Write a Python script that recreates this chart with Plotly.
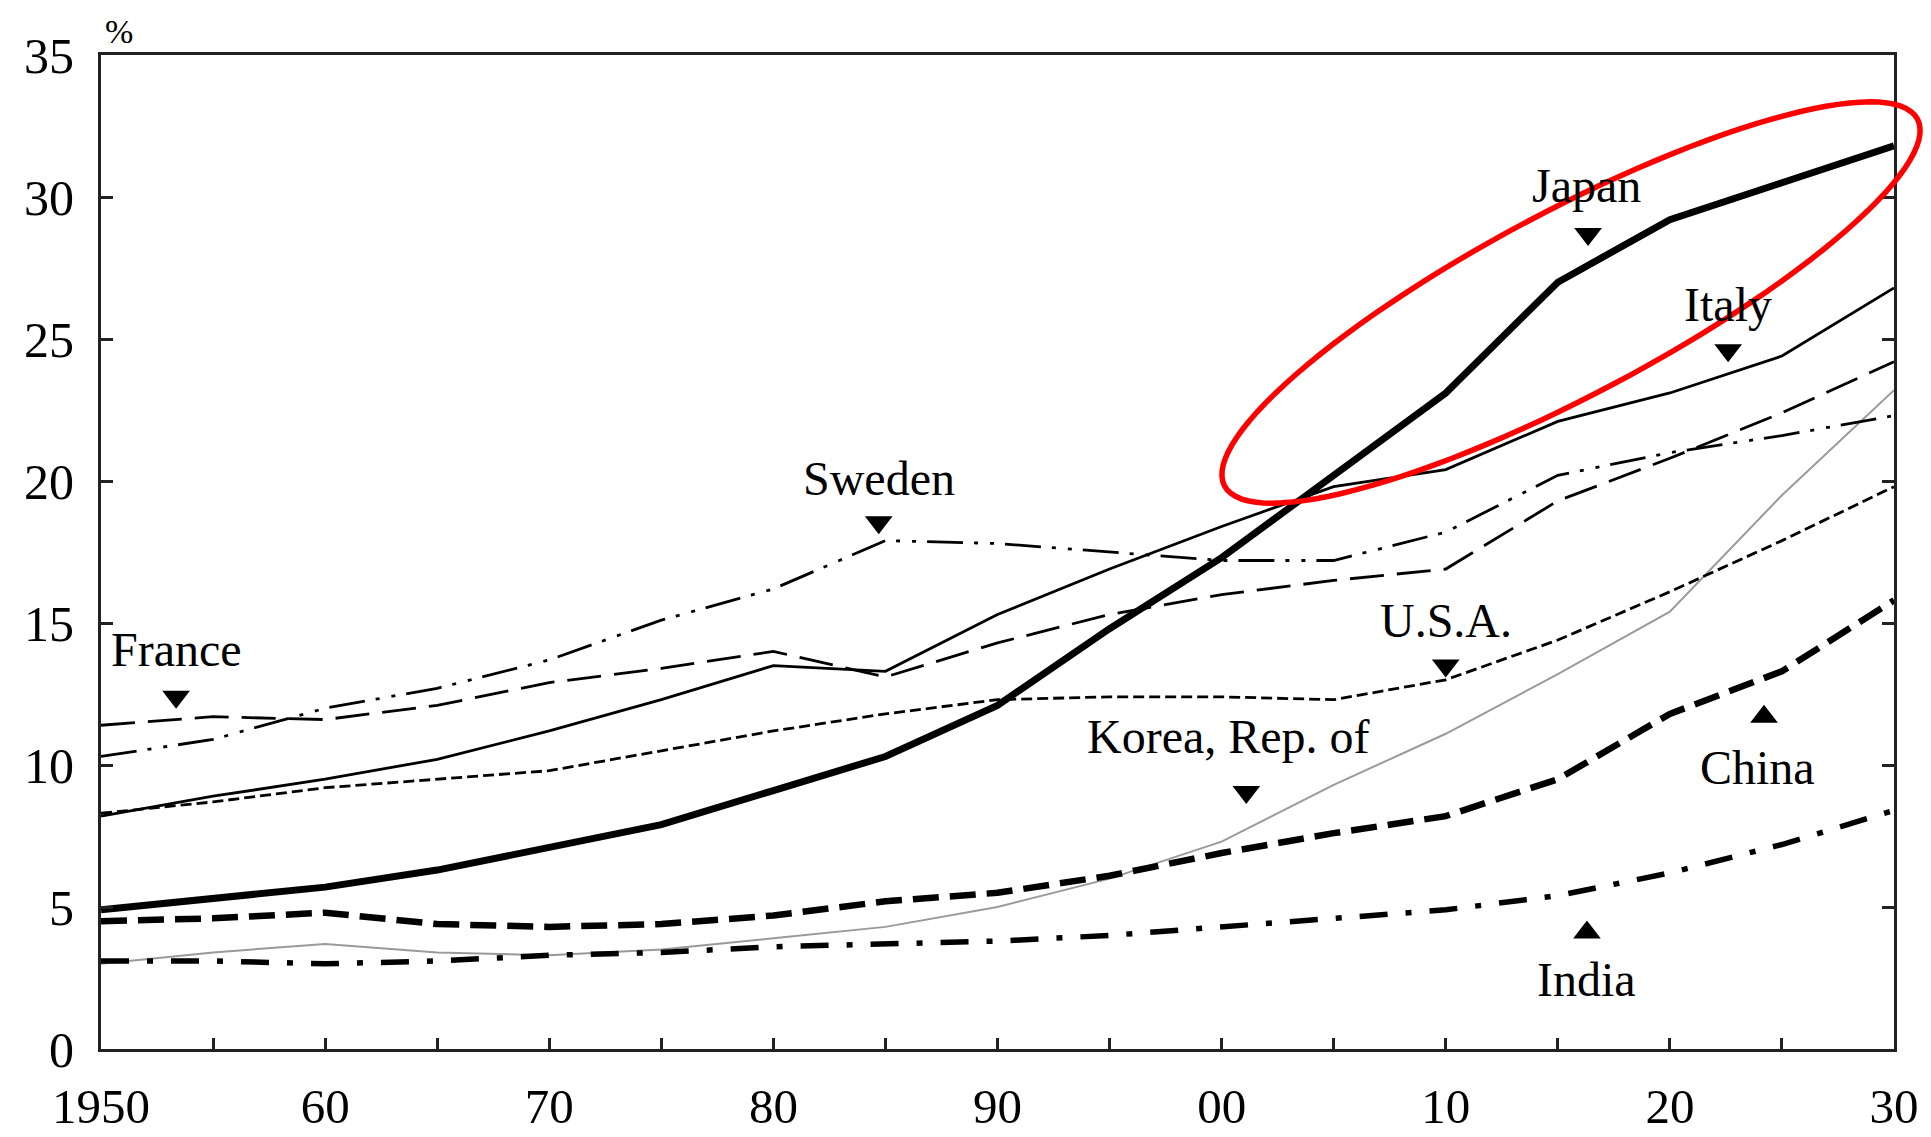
import numpy as np
import plotly.graph_objects as go

years = [1950, 1955, 1960, 1965, 1970, 1975, 1980, 1985, 1990, 1995, 2000, 2005, 2010, 2015, 2020, 2025, 2030]

japan  = [4.9, 5.3, 5.7, 6.3, 7.1, 7.9, 9.1, 10.3, 12.1, 14.8, 17.3, 20.2, 23.1, 27.0, 29.2, 30.5, 31.8]
italy  = [8.2, 8.9, 9.5, 10.2, 11.2, 12.3, 13.5, 13.3, 15.3, 16.9, 18.4, 19.8, 20.4, 22.1, 23.1, 24.4, 26.8]
sweden = [10.3, 10.9, 12.0, 12.7, 13.7, 15.1, 16.2, 17.9, 17.8, 17.5, 17.2, 17.2, 18.2, 20.2, 21.0, 21.6, 22.3]
france = [11.4, 11.7, 11.6, 12.1, 12.9, 13.4, 14.0, 13.1, 14.3, 15.3, 16.0, 16.5, 16.9, 19.3, 20.8, 22.4, 24.2]
usa    = [8.3, 8.7, 9.2, 9.5, 9.8, 10.5, 11.2, 11.8, 12.3, 12.4, 12.4, 12.3, 13.0, 14.4, 16.1, 17.9, 19.8]
korea  = [3.0, 3.4, 3.7, 3.4, 3.3, 3.5, 3.9, 4.3, 5.0, 6.0, 7.3, 9.3, 11.1, 13.2, 15.4, 19.5, 23.2]
china  = [4.5, 4.6, 4.8, 4.4, 4.3, 4.4, 4.7, 5.2, 5.5, 6.1, 6.9, 7.6, 8.2, 9.5, 11.8, 13.3, 15.8]
india  = [3.1, 3.1, 3.0, 3.1, 3.3, 3.4, 3.6, 3.7, 3.8, 4.0, 4.3, 4.6, 4.9, 5.4, 6.2, 7.2, 8.4]

x_tick_vals = [1950, 1955, 1960, 1965, 1970, 1975, 1980, 1985, 1990, 1995, 2000, 2005, 2010, 2015, 2020, 2025, 2030]
x_tick_text = ["1950", "", "60", "", "70", "", "80", "", "90", "", "00", "", "10", "", "20", "", "30"]
y_tick_vals = [0, 5, 10, 15, 20, 25, 30, 35]

label_text = ["France", "Sweden", "Japan", "Italy", "U.S.A.", "Korea, Rep. of", "China", "India"]
label_x = [1953.35, 1984.7, 2016.3, 2022.6, 2010.0, 2000.3, 2023.9, 2016.3]
label_y = [14.05, 20.1, 30.4, 26.2, 15.1, 11.0, 9.9, 2.45]
arrow_x = [1953.35, 1984.7, 2016.35, 2022.6, 2010.0, 2001.1, 2024.2, 2016.3]
arrow_y = [12.4, 18.55, 28.7, 24.6, 13.5, 9.05, 11.7, 4.1]
arrow_sym = ["triangle-down"] * 6 + ["triangle-up"] * 2

FONT = "Liberation Serif, Times New Roman, serif"

series = [
    ("Korea", korea, dict(color="#9a9a9a", width=2)),
    ("India", india, dict(color="black", width=5.5, dash="28px,18px,6px,18px")),
    ("China", china, dict(color="black", width=6.5, dash="26px,11px")),
    ("U.S.A.", usa, dict(color="black", width=2.8, dash="11px,5px")),
    ("France", france, dict(color="black", width=2.8, dash="34px,13px")),
    ("Sweden", sweden, dict(color="black", width=2.8, dash="36px,11px,4px,12px,4px,11px")),
    ("Italy", italy, dict(color="black", width=2.8)),
    ("Japan", japan, dict(color="black", width=7)),
]

fig = go.Figure()
for name, vals, ln in series:
    fig.add_trace(go.Scatter(x=years, y=vals, mode="lines", name=name, line=ln,
                             showlegend=False, hoverinfo="skip"))

fig.add_trace(go.Scatter(x=arrow_x, y=arrow_y, mode="markers",
                         marker=dict(symbol=arrow_sym, size=24, color="black"),
                         showlegend=False, hoverinfo="skip"))

for t, lx, ly in zip(label_text, label_x, label_y):
    fig.add_annotation(x=lx, y=ly, text=t, showarrow=False, xanchor="center", yanchor="middle",
                       font=dict(family=FONT, size=48, color="black"))

fig.add_annotation(xref="paper", yref="paper", x=0.01, y=1.024, text="%", showarrow=False,
                   xanchor="center", yanchor="middle", font=dict(family=FONT, size=34, color="black"))

# page body has an 8px margin; size the figure so the plot area lands where the reference has it
OFF = 8
W, H = 1931 - OFF, 1137 - OFF
PL, PT, PR, PB = 101, 55, 1894, 1049          # plot area in screen pixels
L, T = PL - OFF, PT - OFF
R, B = W - (PR - OFF), H - (PB - OFF)
pw, ph = PR - PL, PB - PT

# red highlight ellipse (screen-pixel geometry converted to paper coordinates)
cx, cy, a, b, th = 1571.0, 302.5, 392.0, 92.0, np.radians(27.9)
tt = np.linspace(0, 2 * np.pi, 121)
u = a * np.cos(tt) * np.cos(th) - b * np.sin(tt) * np.sin(th)
v = a * np.cos(tt) * np.sin(th) + b * np.sin(tt) * np.cos(th)
px = (cx + u - PL) / pw
py = (PB - (cy - v)) / ph
path = "M " + " L ".join(f"{x:.5f},{y:.5f}" for x, y in zip(px, py)) + " Z"
fig.add_shape(type="path", path=path, xref="paper", yref="paper",
              line=dict(color="#ff0000", width=5.5), fillcolor="rgba(0,0,0,0)")

fig.update_xaxes(range=[1950, 2030], tickvals=x_tick_vals, ticktext=x_tick_text,
                 ticks="inside", ticklen=11, tickwidth=3, tickcolor="#222",
                 showline=True, linecolor="#222", linewidth=3, mirror=True,
                 showgrid=False, zeroline=False, ticklabelstandoff=12, automargin=False,
                 tickfont=dict(family=FONT, size=49, color="black"))
fig.update_yaxes(range=[0, 35], tickvals=y_tick_vals,
                 ticks="inside", ticklen=12, tickwidth=3, tickcolor="#222",
                 showline=True, linecolor="#222", linewidth=3, mirror="ticks",
                 showgrid=False, zeroline=False, ticklabelstandoff=14, automargin=False,
                 tickfont=dict(family=FONT, size=50, color="black"))

fig.update_layout(width=W, height=H, margin=dict(l=L, r=R, t=T, b=B, autoexpand=False),
                  plot_bgcolor="white", paper_bgcolor="white")

fig.write_html("out.html")
